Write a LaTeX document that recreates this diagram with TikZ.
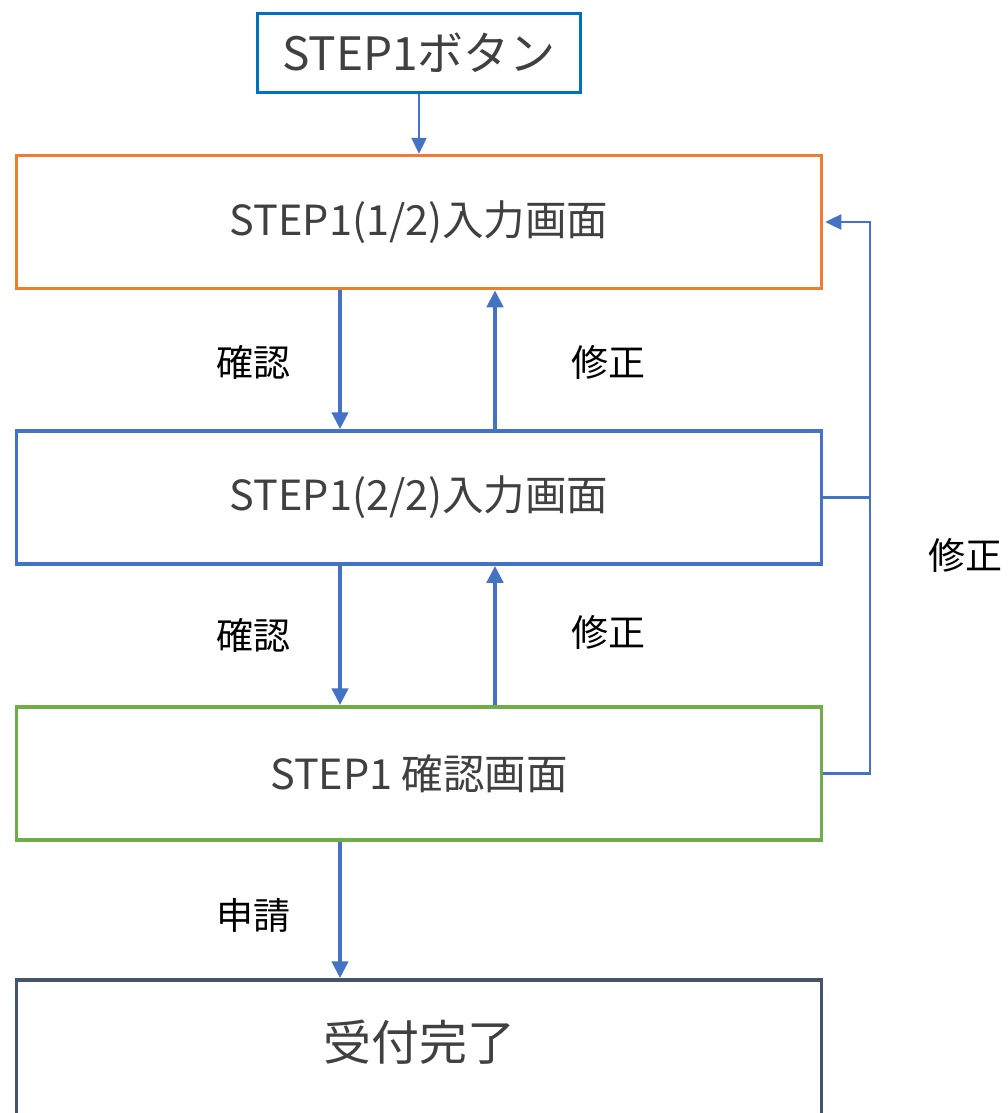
\documentclass[tikz,border=0pt]{standalone}
\usepackage{fontspec}
\setmainfont{Noto Sans CJK JP}
\usepackage{tikz}
\usetikzlibrary{arrows.meta}
\usetikzlibrary{positioning}
\definecolor{btnblue}{HTML}{0070C0}
\definecolor{inorange}{HTML}{ED7D31}
\definecolor{inblue}{HTML}{4472C4}
\definecolor{okgreen}{HTML}{70AD47}
\definecolor{donegray}{HTML}{44546A}
\definecolor{txtgray}{HTML}{404040}

\begin{document}
\begin{tikzpicture}[x=1pt, y=-1pt,
    screen/.style={draw, line width=3.5pt, minimum width=805pt, minimum height=133pt, inner sep=0pt, text=txtgray, font=\fontsize{41.5}{48}\selectfont},
    flow/.style={draw=inblue, line width=4.5pt, -{Triangle[length=17pt,width=16pt]}},
    back/.style={draw=inblue, line width=2.5pt},
    lbl/.style={font=\fontsize{37}{44}\selectfont}]
    \useasboundingbox (0,0) rectangle (1008,1113);
    \node[screen, draw=btnblue, minimum width=323pt, minimum height=79pt, font=\fontsize{46}{54}\selectfont] (btn) at (419,53) {STEP1ボタン};
    \node[screen, draw=inorange] (s1) at (419,222) {STEP1(1/2)入力画面};
    \node[screen, draw=inblue] (s2) at (419,497.5) {STEP1(2/2)入力画面};
    \node[screen, draw=okgreen] (s3) at (419,773.5) {STEP1 確認画面};
    \node[screen, draw=donegray, minimum height=150pt] (done) at (419,1055) {};
    \node[text=txtgray, font=\fontsize{48}{56}\selectfont] (donetxt) at (419,1042) {受付完了};
    \coordinate (dnx) at (340,0);
    \coordinate (upx) at (495,0);
    \coordinate (rx) at (870,0);
    \draw[back, -{Triangle[length=16pt,width=15pt]}] (btn) -- (s1);
    \draw[flow] (s1.south -| dnx) -- (s2.north -| dnx);
    \draw[flow] (s2.north -| upx) -- (s1.south -| upx);
    \draw[flow] (s2.south -| dnx) -- (s3.north -| dnx);
    \draw[flow] (s3.north -| upx) -- (s2.south -| upx);
    \draw[flow] (s3.south -| dnx) -- (done.north -| dnx);
    \draw[back, -{Triangle[length=16pt,width=15pt]}] (s3.east) -- (s3.east -| rx) -- (s1.east -| rx) -- ([xshift=2pt]s1.east);
    \draw[back] (s2.east) -- (s2.east -| rx);
    \node[lbl] (ok1) at (253,362) {確認};
    \node[lbl] (fix1) at (608,362) {修正};
    \node[lbl] (ok2) at (253,635) {確認};
    \node[lbl] (fix2) at (608,632) {修正};
    \node[lbl] (apply) at (253,915) {申請};
    \node[lbl] (fix3) at (965,555) {修正};
\end{tikzpicture}
\end{document}
